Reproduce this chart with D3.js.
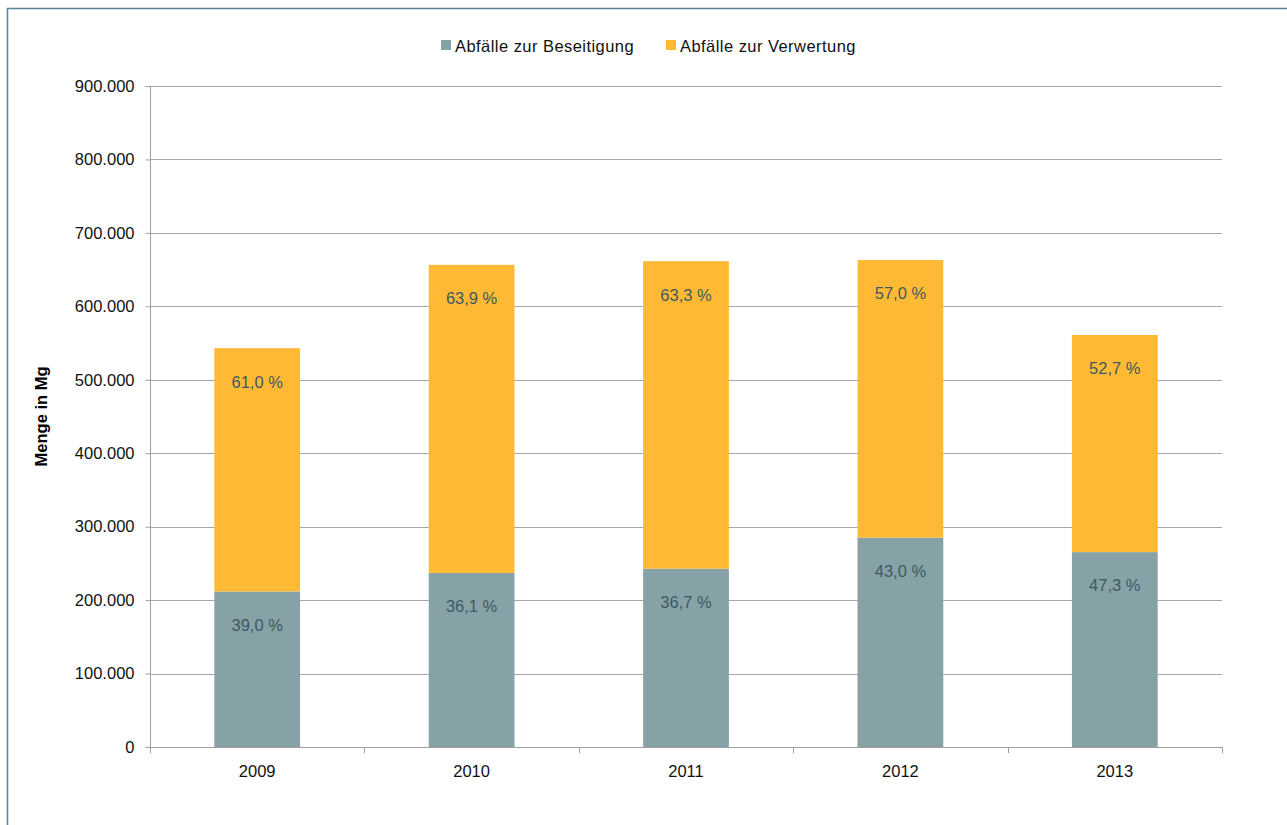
<!DOCTYPE html>
<html>
<head>
<meta charset="utf-8">
<script src="https://cdn.jsdelivr.net/npm/d3@7"></script>
<style>
  html, body { margin: 0; padding: 0; background: #fff; }
  svg { display: block; font-family: "Liberation Sans", Arial, sans-serif; }
</style>
</head>
<body>
<svg id="chart" width="1287" height="825"></svg>
<script>
// Abfallmengen je Jahr (Mg) und Anteile der beiden Entsorgungswege
const years = ["2009", "2010", "2011", "2012", "2013"];
const totals = [543000, 656500, 661500, 663000, 561000];
const shareBeseitigung = [39.0, 36.1, 36.7, 43.0, 47.3];
const shareVerwertung = [61.0, 63.9, 63.3, 57.0, 52.7];
const seriesNames = ["Abfälle zur Beseitigung", "Abfälle zur Verwertung"];
const seriesColors = ["#86a2a7", "#ffb935"];
const yTicks = [0, 100000, 200000, 300000, 400000, 500000, 600000, 700000, 800000, 900000];

const svg = d3.select("#chart");
const W = 1287, H = 825;
const plot = { left: 150, right: 1222, top: 86, bottom: 747 };
const fontFamily = "'Liberation Sans', Arial, sans-serif";

// Rahmen
svg.append("path")
  .attr("d", `M7.5,${H} L7.5,8.5 L${W},8.5`)
  .attr("fill", "none")
  .attr("stroke", "#5b8198")
  .attr("stroke-width", 1.5);

const fmt = d3.formatLocale({ decimal: ",", thousands: ".", grouping: [3], currency: ["", " €"] });
const fmtTick = fmt.format(",.0f");
const fmtPct = fmt.format(".1f");

const x = d3.scaleBand().domain(years).range([plot.left, plot.right]).padding(0);
const y = d3.scaleLinear().domain([0, 900000]).range([plot.bottom, plot.top]);

// Stapeldaten
const rows = years.map((yr, i) => ({
  year: yr,
  b: totals[i] * shareBeseitigung[i] / 100,
  v: totals[i] * shareVerwertung[i] / 100,
  pb: shareBeseitigung[i],
  pv: shareVerwertung[i]
}));
const stack = d3.stack().keys(["b", "v"])(rows);

// Gitternetz
svg.append("g")
  .selectAll("line")
  .data(yTicks.filter(t => t > 0))
  .join("line")
  .attr("x1", plot.left).attr("x2", plot.right)
  .attr("y1", d => Math.round(y(d)) + 0.5).attr("y2", d => Math.round(y(d)) + 0.5)
  .attr("stroke", "#a6a6a6").attr("stroke-width", 1);

// Balken
const barW = x.bandwidth() * 0.4;
const pctKeys = ["pb", "pv"];
stack.forEach((layer, li) => {
  const g = svg.append("g");
  g.selectAll("rect")
    .data(layer)
    .join("rect")
    .attr("x", d => x(d.data.year) + (x.bandwidth() - barW) / 2)
    .attr("y", d => y(d[1]))
    .attr("width", barW)
    .attr("height", d => y(d[0]) - y(d[1]))
    .attr("fill", seriesColors[li]);
  g.selectAll("text")
    .data(layer)
    .join("text")
    .attr("x", d => x(d.data.year) + x.bandwidth() / 2)
    .attr("y", d => y(d[1]) + 35)
    .attr("text-anchor", "middle")
    .attr("dominant-baseline", "middle")
    .attr("font-size", "16.5px")
    .attr("fill", "#3e5962")
    .text(d => fmtPct(d.data[pctKeys[li]]) + " %");
});

// Y-Achse
const yAxis = svg.append("g")
  .attr("transform", `translate(${plot.left + 0.5},0)`)
  .call(d3.axisLeft(y).tickValues(yTicks).tickFormat(d => fmtTick(d)).tickSize(5).tickPadding(11));
yAxis.select(".domain").attr("stroke", "#a0a0a0").attr("d", `M-5,${plot.top}.5H0V${plot.bottom}`);
yAxis.selectAll(".tick line").attr("stroke", "#a0a0a0");
yAxis.selectAll(".tick text").attr("font-size", "16.5px").attr("fill", "#111")
  .attr("font-family", fontFamily);

// X-Achse
const xAxis = svg.append("g")
  .attr("transform", `translate(0,${plot.bottom + 0.5})`)
  .call(d3.axisBottom(x).tickSize(0).tickPadding(18));
xAxis.select(".domain").attr("stroke", "#a0a0a0").attr("d", `M${plot.left},0H${plot.right}`);
xAxis.selectAll(".tick text").attr("font-size", "16.5px").attr("fill", "#111")
  .attr("font-family", fontFamily);
// Trennstriche zwischen den Kategorien
const bounds = years.map(yr => x(yr)).concat([plot.right]);
svg.append("g").selectAll("line")
  .data(bounds)
  .join("line")
  .attr("x1", d => Math.round(d) + 0.5).attr("x2", d => Math.round(d) + 0.5)
  .attr("y1", plot.bottom).attr("y2", plot.bottom + 6)
  .attr("stroke", "#a0a0a0");

// Achsentitel
svg.append("text")
  .attr("transform", `translate(47,${(plot.top + plot.bottom) / 2}) rotate(-90)`)
  .attr("text-anchor", "middle")
  .attr("font-size", "16.5px")
  .attr("font-weight", "bold")
  .attr("fill", "#000")
  .text("Menge in Mg");

// Legende
const legendItems = [
  { name: seriesNames[0], color: seriesColors[0], x: 441 },
  { name: seriesNames[1], color: seriesColors[1], x: 666 }
];
const lg = svg.append("g");
legendItems.forEach(it => {
  lg.append("rect").attr("x", it.x).attr("y", 40).attr("width", 10).attr("height", 10).attr("fill", it.color);
  lg.append("text").attr("x", it.x + 14).attr("y", 51.5)
    .attr("font-size", "16.5px").attr("fill", "#111")
    .attr("letter-spacing", "0.45px")
    .text(it.name);
});
</script>
</body>
</html>
